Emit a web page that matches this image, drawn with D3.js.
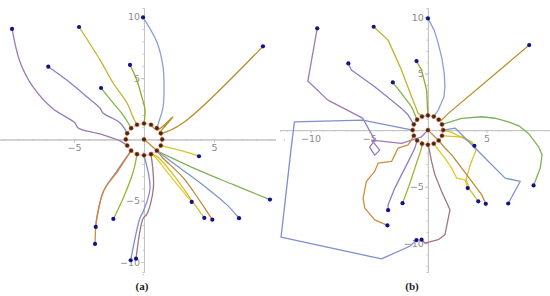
<!DOCTYPE html>
<html>
<head>
<meta charset="utf-8">
<script src="https://d3js.org/d3.v7.min.js"></script>
<style>
  body { margin: 0; background: #fff; }
  .axis path, .axis line { stroke: #c4c4c4; }
  .axis text { fill: #8a8a8a; font-family: "DejaVu Sans", sans-serif; font-size: 9.5px; }
  .panel-label { font-family: "Liberation Serif", serif; font-weight: bold; font-size: 11px; fill: #222; }
</style>
</head>
<body>
<script>
// chart size
var width = 550,
    height = 296;

// target formation: 16 agents on a small circle plus one in the middle
var targets = [
  [1.3, 0], [1.2, 0.5], [0.92, 0.92], [0.5, 1.2], [0, 1.3], [-0.5, 1.2], [-0.92, 0.92], [-1.2, 0.5],
  [-1.3, 0], [-1.2, -0.5], [-0.92, -0.92], [-0.5, -1.2], [0, -1.3], [0.5, -1.2], [0.92, -0.92], [1.2, -0.5],
  [0, 0]
];

// trajectories of panel (a), first point = start position
var pathsA = [
  [[-9.43, 9.02], [-8.86, 6.33], [-7.93, 4.29], [-6.57, 2.57], [-4.93, 1.35], [-4.71, 0.94], [-3.14, 0.45], [-1.71, -0.12], [-1.2, -0.5]],
  [[-4.64, 9.18], [-3.14, 6.49], [-2.21, 4.61], [-1.21, 2.98], [-0.79, 1.84], [-0.5, 1.2]],
  [[-0.07, 9.96], [0.93, 7.92], [1.36, 5.92], [1.43, 4.29], [1.36, 2.65], [1.05, 1.4], [0.92, 0.92]],
  [[8.5, 7.6], [3.07, 1.59], [1.64, 0.64], [1.14, 0.53], [2.07, 1.84], [0.93, 0.78], [0.5, 1.2]],
  [[-6.84, 5.94], [-5.52, 4.85], [-4.09, 3.49], [-3.14, 2.55], [-2.93, 2.16], [-1.71, 1.35], [-1.2, 0.5]],
  [[-1.0, 6.08], [-0.52, 4.86], [-0.16, 3.49], [0.07, 2.41], [0, 1.3]],
  [[-3.07, 4.2], [-2.21, 2.98], [-1.5, 2.0], [-0.92, 0.92]],
  [[3.93, -1.37], [2.8, -0.95], [1.2, -0.5]],
  [[9.0, -4.91], [6.38, -3.69], [4.0, -2.57], [1.6, -1.3], [0.92, -0.92]],
  [[3.41, -5.1], [2.57, -3.96], [1.62, -2.6], [0.79, -1.44], [0.5, -1.2]],
  [[4.31, -6.41], [3.29, -4.78], [2.09, -2.87], [0.95, -1.4], [0.5, -1.2]],
  [[4.88, -6.55], [4.0, -5.04], [2.81, -3.14], [1.3, -1.45], [0.92, -0.92], [0, 0]],
  [[6.79, -6.43], [5.91, -5.32], [4.48, -3.96], [2.57, -2.33], [0.92, -0.92]],
  [[-2.19, -6.49], [-1.48, -4.78], [-0.76, -2.6], [-0.5, -1.2]],
  [[-3.45, -7.14], [-3.38, -6.41], [-2.9, -4.23], [-1.95, -2.6], [-0.92, -0.92]],
  [[-3.5, -8.53], [-3.45, -7.22], [-3.36, -6.41], [-2.86, -4.15], [-1.88, -2.6], [-0.92, -0.92]],
  [[-0.95, -9.86], [-0.29, -6.41], [-0.05, -5.86], [0.43, -3.96], [0, -1.3]],
  [[-0.57, -9.73], [-0.05, -6.41], [0.19, -6.14], [0.67, -3.96], [0.5, -1.2]]
];

// trajectories of panel (b), same starts, different controller
var pathsB = [
  [[-9.43, 9.0], [-10.23, 4.34], [-8.52, 2.65], [-5.56, 1.06], [-4.53, -0.88], [-4.96, -1.5], [-4.53, -2.21], [-4.1, -1.77], [-4.79, -0.88], [-2.25, -1.17], [-0.54, -0.59], [0, 0]],
  [[-4.62, 9.14], [-3.39, 7.96], [-2.25, 5.31], [-1.39, 2.95], [-0.83, 1.48], [-0.5, 1.2]],
  [[0, 9.88], [0.55, 8.8], [0.88, 7.67], [1.2, 6.3], [1.39, 5.02], [1.45, 3.9], [1.37, 2.95], [0.88, 1.77], [0.5, 1.2]],
  [[8.63, 7.52], [1.74, 1.48], [1.17, 0.88], [0.92, 0.92]],
  [[-6.78, 5.9], [-6.52, 5.31], [-4.53, 3.83], [-3.1, 2.65], [-2.25, 1.92], [-1.68, 1.33], [-1.2, 0.5]],
  [[-0.97, 6.11], [-0.54, 5.31], [-0.11, 3.54], [0, 1.3]],
  [[-2.99, 4.22], [-2.25, 3.25], [-1.39, 2.06], [-0.92, 0.92]],
  [[3.96, -1.39], [3.2, -0.8], [2.0, -0.2], [1.3, 0]],
  [[9.0, -4.89], [9.57, -3.36], [9.72, -2.19], [9.43, -1.48], [8.57, -0.29], [7.8, 0.35], [6.86, 0.73], [5.7, 1.05], [4.59, 1.18], [2.88, 1.04], [1.2, 0.5]],
  [[3.39, -5.13], [3.16, -4.4], [2.45, -4.25], [2.02, -3.36], [1.45, -2.48], [0.88, -1.74], [0.5, -1.2]],
  [[4.29, -6.3], [3.59, -5.31], [3.25, -4.42], [3.59, -3.1], [4.1, -1.77], [3.76, -1.06], [2.91, -0.62], [1.71, -0.53], [1.2, -0.5]],
  [[4.93, -6.52], [4.59, -5.73], [3.73, -4.54], [2.88, -3.36], [2.03, -2.19], [1.45, -1.59], [0.92, -0.92], [0, 0]],
  [[6.84, -6.49], [7.86, -4.54], [6.58, -4.25], [5.16, -2.77], [4.02, -1.59], [2.31, 0.18], [1.3, 0]],
  [[-2.16, -6.46], [-1.68, -5.13], [-1.11, -3.36], [-0.54, -1.59], [-0.5, -1.2]],
  [[-3.39, -7.08], [-3.39, -6.61], [-2.82, -5.13], [-2.25, -3.96], [-1.39, -2.19], [-1.11, -1.59], [-0.92, -0.92]],
  [[-3.45, -8.43], [-4.53, -7.94], [-5.38, -6.9], [-5.52, -6.02], [-5.24, -4.54], [-4.53, -3.65], [-4.25, -2.92], [-3.1, -2.77], [-2.82, -2.19], [-2.54, -1.59], [-1.68, -1.3], [-1.2, -0.5]],
  [[-0.97, -9.73], [-1.54, -10.27], [-3.96, -11.39], [-12.51, -9.47], [-11.65, -1.59], [-11.37, 0.73], [-5.56, 0.88], [-1.3, 0]],
  [[-0.54, -9.69], [-0.26, -9.99], [0.88, -9.69], [1.45, -9.25], [1.88, -7.05], [1.17, -5.43], [0.6, -3.96], [0.31, -2.77], [0.09, -1.59], [0, -1.3]]
];

// one colour per agent, used in both panels
var lineColors = ["#9a7ab8", "#c4b22c", "#8a9fd6", "#b4902e", "#8a80c4", "#98a828", "#80b84a", "#d8c428", "#7fb257",
                  "#e0cc2a", "#d4c030", "#c08a3a", "#7f95cc", "#a0b030", "#9080c0", "#d08c3c", "#7f8fcf", "#a07480"];

var xTicksA = [-5, 5],
    xTicksB = [-10, -5, 5],
    yTicks = [-10, -5, 5, 10],
    minorTicks = d3.range(-12, 11);

var svg = d3.select("body").append("svg")
    .attr("width", width)
    .attr("height", height);

// each panel: its own scales, axes, lines and dots
function drawPanel(x, y, paths, xTicks, curve, label, labelX) {
    var g = svg.append("g");

    // minor ticks first, no labels
    g.append("g").attr("class", "axis")
        .attr("transform", "translate(0," + y(0) + ")")
        .call(d3.axisBottom(x).tickValues(minorTicks.filter(function(d) { return d !== 0; })).tickSize(1.5).tickFormat(""));
    g.append("g").attr("class", "axis")
        .attr("transform", "translate(" + x(0) + ",0)")
        .call(d3.axisLeft(y).tickValues(minorTicks.filter(function(d) { return d !== 0; })).tickSize(1.5).tickFormat(""));

    g.append("g").attr("class", "axis")
        .attr("transform", "translate(0," + y(0) + ")")
        .call(d3.axisBottom(x).tickValues(xTicks).tickSize(3).tickSizeOuter(0).tickPadding(2));
    g.append("g").attr("class", "axis")
        .attr("transform", "translate(" + x(0) + ",0)")
        .call(d3.axisLeft(y).tickValues(yTicks).tickSize(3).tickSizeOuter(0).tickPadding(1));

    var line = d3.line()
        .x(function(d) { return x(d[0]); })
        .y(function(d) { return y(d[1]); })
        .curve(curve);

    // faint pink circle the targets sit on
    g.append("path")
        .attr("d", line(targets.slice(0, 16).concat([targets[0]])))
        .attr("fill", "none")
        .attr("stroke", "#f0a0a8")
        .attr("stroke-width", 1.2)
        .attr("opacity", 0.6);

    g.append("g").selectAll("path")
        .data(paths)
        .enter().append("path")
        .attr("d", line)
        .attr("fill", "none")
        .attr("stroke", function(d, i) { return lineColors[i]; })
        .attr("stroke-width", 1.3)
        .attr("stroke-linejoin", "round");

    g.append("g").selectAll("circle")
        .data(targets)
        .enter().append("circle")
        .attr("cx", function(d) { return x(d[0]); })
        .attr("cy", function(d) { return y(d[1]); })
        .attr("r", 2.1)
        .attr("fill", "#4a2410")
        .attr("stroke", "#c0602a")
        .attr("stroke-width", 0.5);

    g.append("g").selectAll("circle")
        .data(paths)
        .enter().append("circle")
        .attr("cx", function(d) { return x(d[0][0]); })
        .attr("cy", function(d) { return y(d[0][1]); })
        .attr("r", 2.1)
        .attr("fill", "#12128a");

    g.append("text")
        .attr("class", "panel-label")
        .attr("x", labelX)
        .attr("y", 290)
        .attr("text-anchor", "middle")
        .text(label);
}

var xA = d3.scaleLinear().domain([-10.29, 9.36]).range([0, 275]),
    yA = d3.scaleLinear().domain([10.73, -10.82]).range([8, 272]);

var xB = d3.scaleLinear().domain([-12.6, 10.4]).range([280, 550]),
    yB = d3.scaleLinear().domain([10.8, -12.55]).range([8, 272]);

drawPanel(xA, yA, pathsA, xTicksA, d3.curveCatmullRom.alpha(0.5), "(a)", 142);
drawPanel(xB, yB, pathsB, xTicksB, d3.curveLinear, "(b)", 412);
</script>
</body>
</html>
